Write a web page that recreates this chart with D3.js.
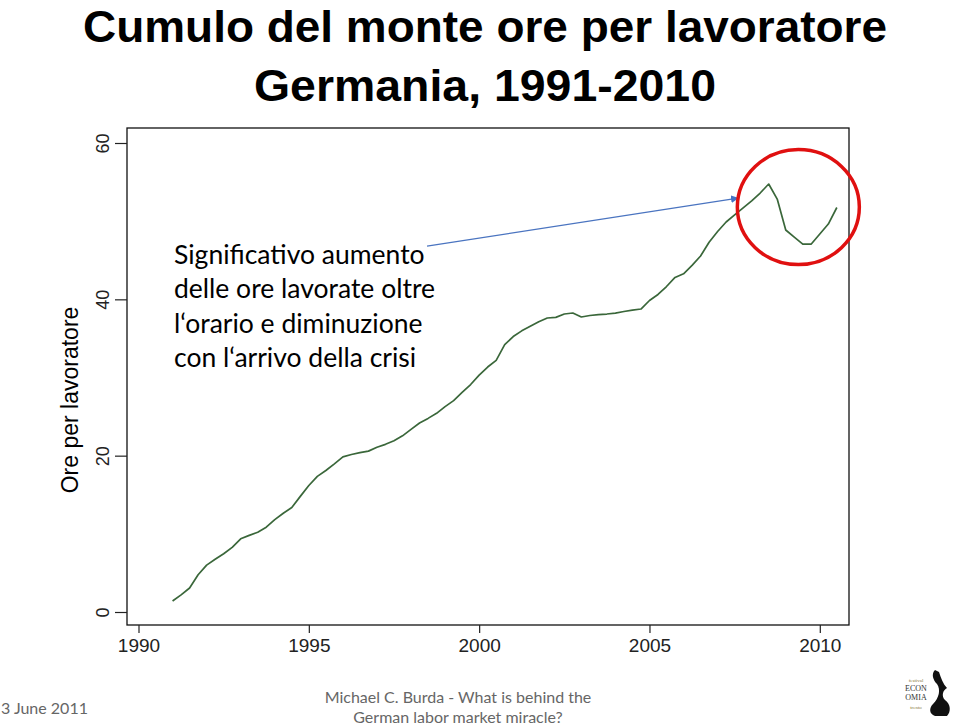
<!DOCTYPE html>
<html><head><meta charset="utf-8">
<script src="https://cdn.jsdelivr.net/npm/d3@7/dist/d3.min.js"></script>
<style>body{margin:0;background:#fff}svg{display:block}</style>
</head><body>
<svg id="c" width="960" height="727"></svg>
<script>
// ---- data ----
const startYear = 1991;           // first quarter 1991Q1
const quarterStep = 0.25;
const hours = [
 1.41,2.19,3.07,4.76,6.00,6.74,7.45,8.26,9.36,9.80,
 10.20,10.85,11.82,12.63,13.37,14.79,16.18,17.35,18.10,18.95,
 19.84,20.15,20.38,20.58,21.08,21.45,21.90,22.54,23.37,24.18,
 24.77,25.42,26.28,27.04,28.10,29.10,30.30,31.34,32.20,34.20,
 35.24,35.97,36.55,37.12,37.61,37.69,38.12,38.25,37.74,37.93,
 38.05,38.12,38.24,38.44,38.63,38.76,39.85,40.62,41.64,42.80,
 43.27,44.35,45.54,47.30,48.68,49.89,50.80,51.70,52.60,53.60,
 54.75,52.83,48.87,47.97,47.07,47.07,48.35,49.63,51.75
];
const xTicks = [1990, 1995, 2000, 2005, 2010];
const yTicks = [0, 20, 40, 60];
const titleLines = ["Cumulo del monte ore per lavoratore", "Germania, 1991-2010"];
const yTitle = "Ore per lavoratore";
const noteLines = ["Significativo aumento", "delle ore lavorate oltre", "l\u2018orario e diminuzione", "con l\u2018arrivo della crisi"];
const footerDate = "3 June 2011";
const footerLines = ["Michael C. Burda - What is behind the", "German labor market miracle?"];
// annotation anchor points (data units)
const arrowFrom = [1998.47, 46.8];
const arrowTo = [2007.6, 52.96];
const circleCenter = [2009.37, 51.8];

const series = hours.map((v, i) => ({t: startYear + i * quarterStep, v}));

const svg = d3.select("#c");
const x = d3.scaleLinear().domain([1990, 2010]).range([138.5, 819.8]);
const y = d3.scaleLinear().domain([0, 60]).range([612, 143]);
const frame = {l: 127, r: 849, t: 128, b: 625};

// titles
const titleW = [804, 462];
svg.selectAll("text.title").data(titleLines).join("text")
  .attr("class", "title")
  .attr("x", 485).attr("y", (d, i) => 42 + i * 59)
  .attr("text-anchor", "middle")
  .attr("font-family", "Liberation Sans, Arial, sans-serif")
  .attr("font-weight", "bold").attr("font-size", 44)
  .attr("textLength", (d, i) => titleW[i]).attr("lengthAdjust", "spacingAndGlyphs")
  .attr("fill", "#000").text(d => d);

// frame
svg.append("rect")
  .attr("x", frame.l).attr("y", frame.t)
  .attr("width", frame.r - frame.l).attr("height", frame.b - frame.t)
  .attr("fill", "#fff").attr("stroke", "#111").attr("stroke-width", 1.3);

// y axis
const yAxis = svg.append("g").attr("transform", `translate(${frame.l},0)`)
  .call(d3.axisLeft(y).tickValues(yTicks).tickSize(12).tickFormat(d3.format("d")));
yAxis.select(".domain").remove();
yAxis.selectAll(".tick line").attr("stroke", "#222").attr("stroke-width", 1.2);
yAxis.selectAll(".tick text")
  .attr("font-family", "Liberation Sans, Arial, sans-serif")
  .attr("font-size", 18).attr("fill", "#222")
  .attr("transform", "rotate(-90)")
  .attr("x", 0).attr("y", -18).attr("dy", 0)
  .attr("text-anchor", "middle");

// x axis
const xAxis = svg.append("g").attr("transform", `translate(0,${frame.b})`)
  .call(d3.axisBottom(x).tickValues(xTicks).tickSize(8).tickFormat(d3.format("d")));
xAxis.select(".domain").remove();
xAxis.selectAll(".tick line").attr("stroke", "#222").attr("stroke-width", 1.2);
xAxis.selectAll(".tick text")
  .attr("font-family", "Liberation Sans, Arial, sans-serif")
  .attr("font-size", 19).attr("fill", "#222")
  .attr("y", 14).attr("dy", "0.71em");

// y title
svg.append("text")
  .attr("transform", "translate(78,400) rotate(-90)")
  .attr("text-anchor", "middle")
  .attr("font-family", "Liberation Sans, Arial, sans-serif")
  .attr("font-size", 23).attr("fill", "#000").text(yTitle);

// line
svg.append("path").datum(series)
  .attr("fill", "none").attr("stroke", "#3a673a").attr("stroke-width", 1.7)
  .attr("stroke-linejoin", "round")
  .attr("d", d3.line().x(d => x(d.t)).y(d => y(d.v)));

// annotation text
svg.selectAll("text.note").data(noteLines).join("text")
  .attr("class", "note")
  .attr("x", 174).attr("y", (d, i) => 264 + i * 34.3)
  .attr("font-family", "Lato, Open Sans, sans-serif")
  .attr("font-size", 26.5).attr("fill", "#000").text(d => d);

// arrow
const defs = svg.append("defs");
defs.append("marker").attr("id", "ah").attr("viewBox", "0 0 10 10")
  .attr("refX", 9).attr("refY", 5).attr("markerWidth", 6).attr("markerHeight", 6)
  .attr("orient", "auto")
  .append("path").attr("d", "M0,0L10,5L0,10Z").attr("fill", "#4472c4");
svg.append("line")
  .attr("x1", x(arrowFrom[0])).attr("y1", y(arrowFrom[1]))
  .attr("x2", x(arrowTo[0])).attr("y2", y(arrowTo[1]))
  .attr("stroke", "#4a74c0").attr("stroke-width", 1.3)
  .attr("marker-end", "url(#ah)");

// red circle
svg.append("ellipse")
  .attr("cx", x(circleCenter[0])).attr("cy", y(circleCenter[1]))
  .attr("rx", 61).attr("ry", 57.5)
  .attr("fill", "none").attr("stroke", "#e01010").attr("stroke-width", 3.5);

// footer
svg.append("text").attr("x", 1).attr("y", 714)
  .attr("font-family", "Lato, Open Sans, sans-serif").attr("font-size", 16)
  .attr("fill", "#666").text(footerDate);
svg.selectAll("text.foot").data(footerLines).join("text")
  .attr("class", "foot")
  .attr("x", 458).attr("y", (d, i) => 703 + i * 20)
  .attr("text-anchor", "middle")
  .attr("font-family", "Lato, Open Sans, sans-serif").attr("font-size", 16)
  .attr("fill", "#666").text(d => d);

// logo
const logo = svg.append("g").attr("transform", "translate(905,668)");
["festival", "ECON", "OMIA", "trento"].forEach((t, i) => {
  logo.append("text").attr("x", 11).attr("y", 14 + i * 9)
    .attr("text-anchor", "middle")
    .attr("font-family", "Liberation Serif, serif")
    .attr("font-size", i === 0 || i === 3 ? 5 : 8)
    .attr("fill", i === 0 || i === 3 ? "#8a7a3a" : "#333").text(t);
});
logo.append("path")
  .attr("d", "M30,2 C26,6 28,12 32,16 C36,22 34,30 28,36 C24,40 24,46 30,48 L42,48 C46,44 46,36 40,32 C36,28 38,22 42,20 C38,16 36,10 34,4 Z")
  .attr("fill", "#111");
</script>
</body></html>
